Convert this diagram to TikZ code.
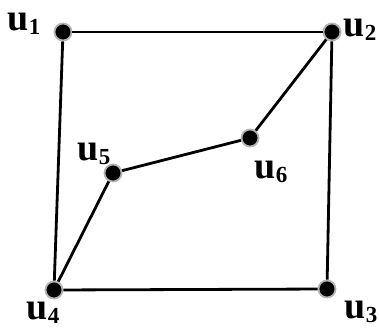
\documentclass[tikz,border=0pt]{standalone}
\usepackage{fontspec}
\setmainfont{Liberation Serif}
\newcommand{\ulab}[1]{{\fontsize{38}{38}\selectfont\bfseries u\raisebox{-4pt}{\fontsize{23}{23}\selectfont #1}}}
\tikzset{
  vert/.style={circle, fill=black, draw=gray!60, line width=1.8pt, minimum size=17pt, inner sep=0pt},
  lab/.style={inner sep=0pt, font=\bfseries},
  edge/.style={line width=2.8pt, black}
}
\begin{document}
\begin{tikzpicture}[x=1pt,y=-1pt]
\useasboundingbox (0,0) rectangle (379,328);
\node[vert] (u1) at (63,32) {};
\node[vert] (u2) at (332,32) {};
\node[vert] (u3) at (327,289) {};
\node[vert] (u4) at (54,290) {};
\node[vert] (u5) at (113,173) {};
\node[vert] (u6) at (250,138) {};
\draw[edge] (u1) -- (u2);
\draw[edge] (u2) -- (u3);
\draw[edge] (u3) -- (u4);
\draw[edge] (u4) -- (u1);
\draw[edge] (u4) -- (u5);
\draw[edge] (u5) -- (u6);
\draw[edge] (u6) -- (u2);
\node[lab] (l1) at (24,24) {\ulab{1}};
\node[lab] (l2) at (360,30) {\ulab{2}};
\node[lab] (l3) at (361,312) {\ulab{3}};
\node[lab] (l4) at (43,313) {\ulab{4}};
\node[lab] (l5) at (94,154) {\ulab{5}};
\node[lab] (l6) at (271,172) {\ulab{6}};
\end{tikzpicture}
\end{document}
